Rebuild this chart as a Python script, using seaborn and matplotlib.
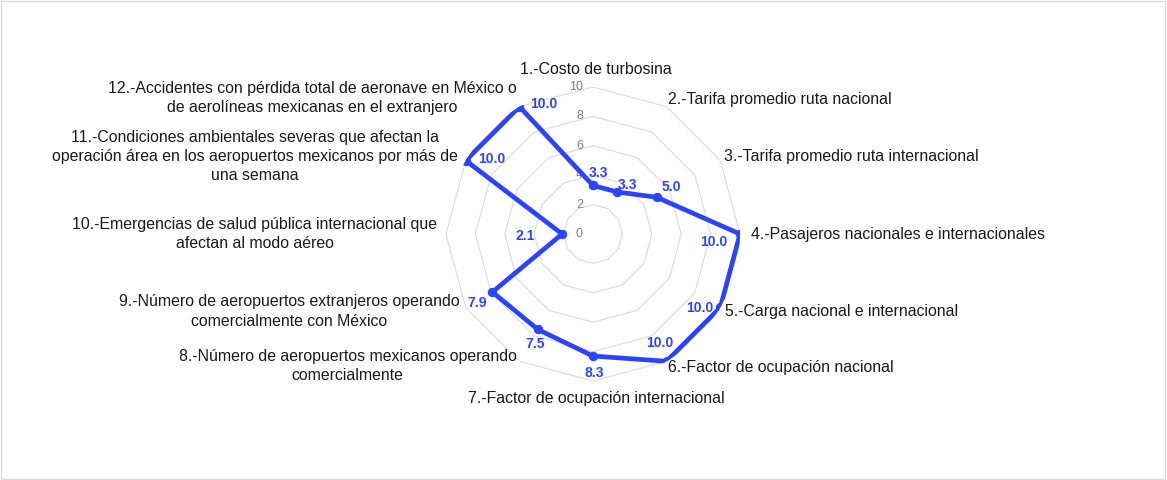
import numpy as np
import pandas as pd
import matplotlib
matplotlib.use('Agg')
import matplotlib.pyplot as plt
import seaborn as sns
from matplotlib.patches import Rectangle

# --- Datos ---
categorias = [
    '1.-Costo de turbosina',
    '2.-Tarifa promedio ruta nacional',
    '3.-Tarifa promedio ruta internacional',
    '4.-Pasajeros nacionales e internacionales',
    '5.-Carga nacional e internacional',
    '6.-Factor de ocupación nacional',
    '7.-Factor de ocupación internacional',
    '8.-Número de aeropuertos mexicanos operando\ncomercialmente',
    '9.-Número de aeropuertos extranjeros operando\ncomercialmente con México',
    '10.-Emergencias de salud pública internacional que\nafectan al modo aéreo',
    '11.-Condiciones ambientales severas que afectan la\noperación área en los aeropuertos mexicanos por más de\nuna semana',
    '12.-Accidentes con pérdida total de aeronave en México o\nde aerolíneas mexicanas en el extranjero',
]
valores = [3.3, 3.3, 5.0, 10.0, 10.0, 10.0, 8.3, 7.5, 7.9, 2.1, 10.0, 10.0]
niveles = [0, 2, 4, 6, 8, 10]

# --- Estilo ---
sns.set_theme(style='white')
plt.rcParams['font.family'] = ['Liberation Sans', 'DejaVu Sans']
azul = '#2b44fb'
gris = '#d9d9d9'

# posiciones de las etiquetas (pixeles) respecto al punto de cada eje
off_cat = [(3, 10), (2, 7), (4, 4), (11, -1), (5, -4), (2, -6),
           (3, -10), (-3, -5), (-6, -4), (-9, 0), (-8, 4), (-3, 9)]
ali_cat = [('center', 'bottom'), ('left', 'center'), ('left', 'center'),
           ('left', 'center'), ('left', 'center'), ('left', 'center'),
           ('center', 'top'), ('right', 'center'), ('right', 'center'),
           ('right', 'center'), ('right', 'center'), ('right', 'center')]
off_val = [(5, 12), (10, 7), (15, 10), (-26, -8), (-21, -1), (-7, 18),
           (1, -17), (-3, -15), (-15, -11), (-37, -2), (26, 2), (24, 3)]

n = len(categorias)
ang = np.linspace(0, 2 * np.pi, n, endpoint=False)
df = pd.DataFrame({'ang': np.append(ang, 2 * np.pi),
                   'valor': valores + valores[:1]})

fig = plt.figure(figsize=(11.67, 4.8), dpi=100)
fig.patches.append(Rectangle((0.001, 0.002), 0.997, 0.995, transform=fig.transFigure,
                             fill=False, edgecolor=gris, linewidth=1))

cx, cy, r = 593, 246, 147
ax = fig.add_axes([(cx - r) / 1167, (cy - r) / 480, 2 * r / 1167, 2 * r / 480],
                  projection='polar')
ax.set_theta_offset(np.pi / 2)
ax.set_theta_direction(-1)
ax.set_ylim(0, 10)
ax.grid(False)
ax.spines['polar'].set_visible(False)
ax.set_xticks([])
ax.set_yticks([])
ax.set_facecolor('none')

# rejilla poligonal
for lv in niveles[1:]:
    ax.plot(np.append(ang, 0), [lv] * (n + 1), color=gris, lw=0.8, zorder=1)
for lv in niveles:
    ax.annotate(str(lv), xy=(0, lv), xytext=(-10, 0), textcoords='offset pixels',
                ha='right', va='center', fontsize=9, color='#808080')

sns.lineplot(data=df, x='ang', y='valor', sort=False, ax=ax, color=azul,
             lw=3.4, marker='o', markersize=6, markeredgecolor=azul, zorder=3)
ax.set_xlabel('')
ax.set_ylabel('')

for i, (cat, val) in enumerate(zip(categorias, valores)):
    ha, va = ali_cat[i]
    ax.annotate(cat, xy=(ang[i], 10), xytext=off_cat[i], textcoords='offset pixels',
                ha=ha, va=va, multialignment='center', fontsize=11.4,
                color='#1a1a1a', linespacing=1.35, annotation_clip=False)
    ax.annotate(f'{val:.1f}', xy=(ang[i], val), xytext=off_val[i],
                textcoords='offset pixels', ha='center', va='center',
                fontsize=10, fontweight='bold', color=azul, zorder=4)

plt.savefig('out.png', dpi=100)
